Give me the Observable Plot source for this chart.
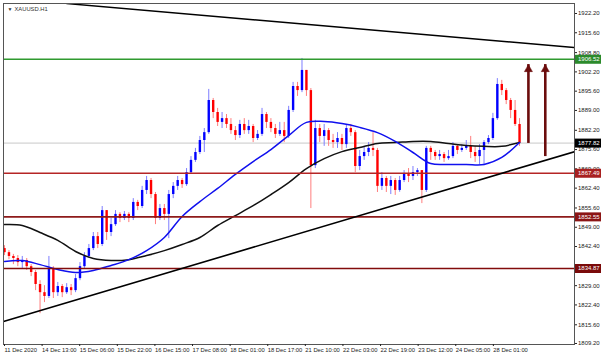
<!DOCTYPE html>
<html><head><meta charset="utf-8">
<script src="https://cdn.jsdelivr.net/npm/d3@7"></script>
<script src="https://cdn.jsdelivr.net/npm/@observablehq/plot@0.6"></script>
<style>html,body{margin:0;padding:0;background:#fff}</style>
</head><body><div id="chart"></div>
<script>
const symbol = "XAUUSD.H1";
const firstOpen = 1841.7;
const close = [1840.3,1839.0,1838.3,1836.9,1837.6,1835.5,1833.5,1829.4,1826.6,1825.3,
1834.9,1826.6,1828.7,1826.6,1828.3,1827.3,1831.4,1835.5,1839.0,1841.7,
1845.8,1843.1,1854.7,1847.2,1849.9,1853.4,1852.0,1853.4,1852.0,1857.5,
1856.1,1861.6,1865.0,1860.2,1852.0,1855.4,1853.4,1860.2,1863.0,1865.0,
1863.6,1867.7,1871.9,1874.6,1878.7,1881.4,1892.4,1888.3,1884.9,1886.2,
1884.2,1882.1,1880.4,1884.2,1882.1,1883.5,1879.4,1880.8,1887.6,1884.9,
1882.8,1880.8,1882.1,1880.1,1889.0,1897.2,1895.8,1902.7,1895.8,1870.1,
1882.8,1880.1,1882.1,1878.7,1878.0,1879.4,1877.3,1882.8,1881.4,1869.8,
1873.2,1874.6,1876.0,1875.3,1863.0,1865.7,1863.0,1865.0,1861.6,1865.0,
1867.1,1866.4,1867.7,1868.4,1861.6,1876.0,1874.6,1873.2,1873.9,1872.5,
1873.2,1876.7,1875.3,1876.0,1876.7,1874.6,1873.2,1875.3,1878.0,1879.4,
1886.2,1897.9,1895.8,1892.4,1889.0,1884.2,1877.82];
const high = [1842.7,1841.0,1839.7,1839.3,1839.0,1838.3,1836.2,1834.2,1830.7,1829.0,
1839.0,1835.5,1830.1,1829.4,1829.7,1829.4,1832.8,1836.9,1840.3,1843.1,
1847.2,1847.2,1856.1,1854.7,1852.0,1854.7,1854.0,1854.4,1854.0,1858.8,
1858.2,1863.0,1866.4,1865.7,1860.9,1856.8,1856.8,1861.6,1864.3,1866.4,
1865.7,1869.1,1873.2,1876.0,1880.1,1882.8,1896.2,1893.1,1889.7,1888.3,
1887.6,1886.2,1883.5,1885.6,1886.2,1885.6,1884.2,1882.1,1889.7,1888.3,
1886.2,1884.2,1884.9,1884.9,1890.4,1898.6,1898.6,1906.8,1902.7,1896.5,
1885.6,1884.2,1884.2,1882.8,1880.8,1881.4,1880.8,1884.2,1884.2,1882.1,
1875.3,1876.7,1878.0,1881.4,1876.0,1867.7,1866.4,1866.4,1865.7,1866.4,
1868.4,1869.1,1869.8,1869.1,1868.4,1876.7,1876.7,1875.3,1875.3,1874.6,
1875.3,1878.0,1877.3,1877.3,1878.7,1880.1,1876.7,1877.3,1878.7,1880.4,
1888.0,1899.9,1899.3,1896.5,1893.1,1892.4,1886.2];
const low = [1839.3,1837.9,1836.2,1835.5,1834.9,1834.2,1832.1,1827.3,1819.4,1823.2,
1824.6,1824.6,1825.3,1824.9,1826.0,1825.6,1826.6,1830.7,1834.9,1838.3,
1841.0,1841.7,1842.4,1844.5,1845.8,1849.3,1850.6,1851.3,1850.6,1851.3,
1854.7,1855.4,1860.2,1858.8,1849.9,1851.3,1851.3,1845.1,1858.8,1861.6,
1862.3,1863.0,1867.1,1871.2,1873.9,1874.6,1880.8,1886.2,1883.5,1882.8,
1882.8,1880.8,1878.7,1879.4,1880.8,1880.8,1878.0,1878.7,1880.1,1882.8,
1881.4,1879.4,1880.1,1878.0,1879.4,1888.3,1893.8,1895.1,1893.8,1855.4,
1869.1,1878.0,1876.7,1876.7,1876.0,1876.0,1875.3,1876.0,1880.1,1867.7,
1868.4,1871.9,1873.2,1873.2,1860.9,1861.6,1860.9,1860.2,1859.9,1861.0,
1864.3,1864.3,1865.0,1866.4,1857.1,1860.9,1871.9,1871.9,1871.9,1871.2,
1871.9,1872.5,1873.9,1874.6,1875.3,1872.5,1871.2,1870.5,1870.1,1877.3,
1878.7,1885.6,1894.1,1891.0,1886.2,1883.5,1876.7];

const maIndex = [0,4,8,12,16,20,24,28,32,36,40,44,48,52,56,60,64,68,72,76,80,84,88,92,96,100,104,108,112,116];
const maFast = [1837.3,1837.6,1836.2,1834.5,1833.5,1834.2,1835.9,1837.9,1841.0,1845.5,1852.7,1857.8,1862.3,1867.1,1871.5,1875.6,1880.4,1884.9,1885.2,1884.5,1883.2,1881.4,1878.4,1874.6,1870.8,1870.5,1870.5,1870.5,1872.9,1878.0];
const maSlow = [1849.9,1849.6,1847.2,1844.5,1840.7,1838.3,1837.6,1837.9,1839.3,1841.0,1843.1,1845.5,1849.6,1853.0,1856.4,1860.2,1864.3,1869.1,1872.5,1874.9,1876.3,1877.7,1878.0,1878.4,1878.4,1877.7,1877.0,1876.7,1876.7,1878.0];

const levels = [1906.52, 1867.49, 1852.55, 1834.87];
const levelColors = ["#2f9a2f", "#b52525", "#8e1a1a", "#820c0c"];
const levelBoxColors = ["#2b8a2b", "#a82020", "#8b1515", "#7a0a0a"];
const lastPrice = 1877.82;

const yTicks = [1922.2,1915.6,1908.8,1902.2,1895.6,1889.0,1882.2,1875.6,1869.0,1862.4,1855.6,1849.0,1842.4,1829.0,1822.4,1815.6,1809.2];
const xTickLabels = ["11 Dec 2020","14 Dec 13:00","15 Dec 06:00","15 Dec 22:00","16 Dec 15:00","17 Dec 08:00","18 Dec 01:00","18 Dec 17:00","21 Dec 10:00","22 Dec 03:00","22 Dec 19:00","23 Dec 12:00","24 Dec 05:00","28 Dec 01:00"];

const trendDownX = [14.0, 128.4], trendDownY = [1925.6, 1910.55];
const trendUpX = [-0.23, 128.4], trendUpY = [1816.7, 1874.9];
const arrowX = [118.0, 121.8];
const arrowFrom = [1877.7, 1873.2];
const arrowTo = [1904.7, 1904.7];

// build tables
const xMin = -0.23, xMax = 128.38;
const candles = close.map((c, i) => ({i, o: i ? close[i - 1] : firstOpen, h: high[i], l: low[i], c}));
const fast = maIndex.map((x, k) => ({x, y: maFast[k]}));
const slow = maIndex.map((x, k) => ({x, y: maSlow[k]}));
const lv = levels.map((v, k) => ({v, line: levelColors[k], box: levelBoxColors[k]}));
const boxes = [...lv, {v: lastPrice, line: "#c8c8c8", box: "#000"}];
const tdown = trendDownX.map((x, k) => ({x, y: trendDownY[k]}));
const tup = trendUpX.map((x, k) => ({x, y: trendUpY[k]}));
const arrows = arrowX.map((x, k) => ({x, y1: arrowFrom[k], y2: arrowTo[k]}));
const xTickPos = xTickLabels.map((_, j) => xMin + j * 8.47);
const labelMap = new Map(xTickPos.map((p, j) => [p, xTickLabels[j]]));
const up = d => d.c >= d.o;
const font = "'Liberation Sans', Arial, sans-serif";

const chart = Plot.plot({
  width: 602, height: 358,
  marginLeft: 3, marginRight: 28, marginTop: 3, marginBottom: 14,
  x: {domain: [xMin, xMax]},
  y: {domain: [1808.85, 1925.62]},
  color: {type: "identity"},
  style: {background: "#fff", fontFamily: font, fontSize: "6px", color: "#222"},
  marks: [
    Plot.ruleY([lastPrice], {stroke: "#c8c8c8", strokeWidth: 1}),
    Plot.ruleX(candles, {x: "i", y1: "l", y2: "h", stroke: d => up(d) ? "#7d7dff" : "#ff7d7d", strokeWidth: 1}),
    Plot.ruleX(candles, {x: "i", y1: "o", y2: "c", stroke: d => up(d) ? "#0000ff" : "#ff0000", strokeWidth: 2.4}),
    Plot.line(slow, {x: "x", y: "y", stroke: "#111", strokeWidth: 1.5, curve: "catmull-rom"}),
    Plot.line(fast, {x: "x", y: "y", stroke: "#1010ee", strokeWidth: 1.5, curve: "catmull-rom"}),
    Plot.ruleY(lv, {y: "v", stroke: "line", strokeWidth: 1.6}),
    Plot.line(tdown, {x: "x", y: "y", stroke: "#000", strokeWidth: 1.5, clip: true}),
    Plot.line(tup, {x: "x", y: "y", stroke: "#000", strokeWidth: 1.6, clip: true}),
    Plot.ruleX(arrows, {x: "x", y1: "y1", y2: "y2", stroke: "#6b0c0c", strokeWidth: 2.6}),
    Plot.dot(arrows, {x: "x", y: "y2", symbol: "triangle", r: 3, fill: "#6b0c0c", stroke: "#6b0c0c", strokeWidth: 0.5, dy: 4.7}),
    Plot.frame({stroke: "#555", strokeWidth: 1}),
    Plot.axisY(yTicks, {anchor: "right", tickSize: 2, tickPadding: 1.5, tickFormat: d => d.toFixed(2), fontSize: 6, label: null, color: "#222"}),
    Plot.axisX(xTickPos, {anchor: "bottom", tickSize: 2, tickPadding: 1, tickFormat: d => labelMap.get(d), textAnchor: "start", dx: 1, fontSize: 5.8, label: null, color: "#222"}),
    Plot.ruleY(boxes, {y: "v", x1: () => xMax, x2: () => xMax, insetLeft: 1, insetRight: -27, stroke: "box", strokeWidth: 9}),
    Plot.text(boxes, {y: "v", frameAnchor: "right", dx: 3.5, textAnchor: "start", text: d => d.v.toFixed(2), fill: "#fff", fontSize: 6}),
    Plot.text(["\u25BC"], {frameAnchor: "top-left", dx: 4, dy: 4, fontSize: 5, fill: "#333"}),
    Plot.text([symbol], {frameAnchor: "top-left", dx: 11, dy: 3.5, fontSize: 5.8, fill: "#333"})
  ]
});
document.getElementById("chart").appendChild(chart);
</script>
</body></html>
